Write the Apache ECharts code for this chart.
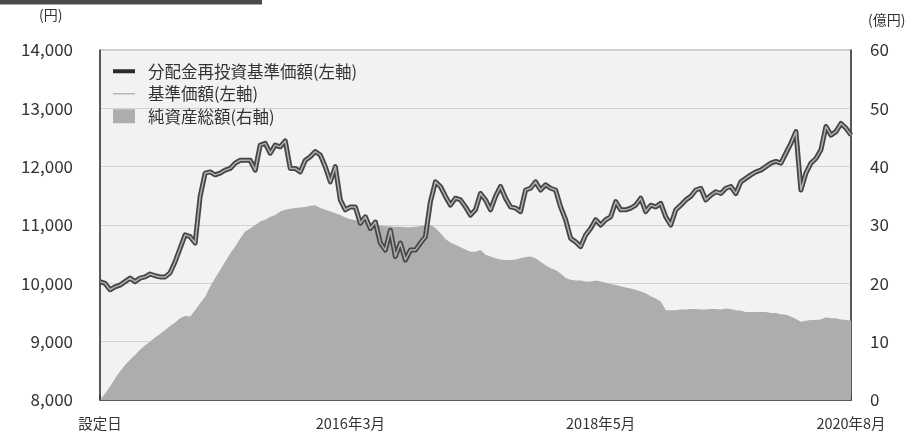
<!DOCTYPE html>
<html><head><meta charset="utf-8">
<script src="https://cdn.jsdelivr.net/npm/echarts@6/dist/echarts.min.js"></script>
<style>html,body{margin:0;padding:0;background:#fff}#c{width:907px;height:432px}</style>
</head><body><div id="c"></div>
<script>
// x positions: index 0..150 along the period 設定日 → 2020年8月
const tickLabels = ['設定日', '2016年3月', '2018年5月', '2020年8月'];
const tickIndex = [0, 50, 100, 150];

// 分配金再投資基準価額 (円, left axis)
const reinvestPrice = [
10030,10000,9890,9940,9970,10030,10090,10030,10090,10110,
10160,10130,10110,10110,10180,10370,10600,10830,10800,10690,
11490,11890,11910,11860,11890,11940,11970,12060,12110,12110,
12110,11940,12370,12400,12230,12370,12340,12440,11970,11970,
11910,12110,12170,12260,12200,12000,11740,12000,11430,11260,
11310,11310,11030,11140,10940,11050,10690,10570,10910,10460,
10690,10400,10570,10570,10690,10800,11400,11740,11660,11490,
11340,11460,11430,11310,11170,11260,11540,11430,11260,11490,
11660,11460,11310,11290,11230,11600,11630,11740,11600,11690,
11630,11600,11310,11090,10770,10710,10630,10830,10940,11090,
11000,11090,11140,11400,11260,11260,11290,11340,11460,11230,
11340,11310,11370,11140,11000,11260,11340,11430,11490,11600,
11630,11430,11510,11570,11540,11630,11660,11540,11740,11800,
11860,11910,11940,12000,12060,12090,12060,12230,12400,12600,
11600,11890,12060,12140,12290,12690,12540,12600,12740,12660,
12540
];
// 基準価額 (円, left axis) – coincides with the line above in the picture
const basePrice = [
10030,10000,9890,9940,9970,10030,10090,10030,10090,10110,
10160,10130,10110,10110,10180,10370,10600,10830,10800,10690,
11490,11890,11910,11860,11890,11940,11970,12060,12110,12110,
12110,11940,12370,12400,12230,12370,12340,12440,11970,11970,
11910,12110,12170,12260,12200,12000,11740,12000,11430,11260,
11310,11310,11030,11140,10940,11050,10690,10570,10910,10460,
10690,10400,10570,10570,10690,10800,11400,11740,11660,11490,
11340,11460,11430,11310,11170,11260,11540,11430,11260,11490,
11660,11460,11310,11290,11230,11600,11630,11740,11600,11690,
11630,11600,11310,11090,10770,10710,10630,10830,10940,11090,
11000,11090,11140,11400,11260,11260,11290,11340,11460,11230,
11340,11310,11370,11140,11000,11260,11340,11430,11490,11600,
11630,11430,11510,11570,11540,11630,11660,11540,11740,11800,
11860,11910,11940,12000,12060,12090,12060,12230,12400,12600,
11600,11890,12060,12140,12290,12690,12540,12600,12740,12660,
12540
];
// 純資産総額 (億円, right axis)
const netAssets = [
0,1.1,2.3,3.7,4.9,6.0,6.9,7.7,8.6,9.4,
10.0,10.7,11.3,12.0,12.7,13.3,14.0,14.4,14.3,15.4,
16.6,17.7,19.4,20.9,22.3,23.7,25.1,26.3,27.7,28.9,
29.4,30.0,30.6,30.9,31.4,31.7,32.3,32.6,32.8,32.9,
33.0,33.1,33.3,33.4,32.9,32.6,32.3,32.0,31.7,31.3,
31.0,30.8,30.6,30.4,30.2,30.0,29.9,29.8,29.8,29.7,
29.7,29.6,29.6,29.7,29.8,30.0,30.0,29.5,28.6,27.6,
27.0,26.6,26.2,25.8,25.4,25.4,25.7,24.9,24.6,24.3,
24.1,24.0,24.0,24.1,24.3,24.5,24.6,24.3,23.7,23.1,
22.6,22.3,21.7,20.9,20.6,20.5,20.5,20.3,20.3,20.5,
20.3,20.1,19.9,19.7,19.5,19.3,19.1,18.9,18.6,18.3,
17.8,17.4,16.9,15.4,15.4,15.4,15.5,15.5,15.6,15.6,
15.5,15.5,15.6,15.6,15.5,15.7,15.6,15.4,15.3,15.1,
15.1,15.1,15.1,15.1,14.9,14.9,14.7,14.6,14.3,13.9,
13.4,13.6,13.7,13.7,13.8,14.2,14.0,14.0,13.8,13.7,
13.6
];
const seriesNames = ['分配金再投資基準価額(左軸)', '基準価額(左軸)', '純資産総額(右軸)'];

const FONT = '"Noto Sans CJK JP", "Noto Sans", sans-serif';
const pairs = arr => arr.map((v, i) => [i, v]);

const chart = echarts.init(document.getElementById('c'), null, {renderer: 'canvas'});
chart.setOption({
  animation: false,
  textStyle: {fontFamily: FONT},
  grid: {left: 100, right: 56, top: 50, bottom: 32, show: true,
         backgroundColor: '#f2f2f2', borderColor: '#9a9a9a', borderWidth: 1},
  legend: {
    orient: 'vertical', left: 108, top: 58, itemWidth: 22, itemHeight: 14, itemGap: 6,
    textStyle: {fontSize: 16.5, color: '#333', fontFamily: FONT, padding: [0, 0, 0, 8]},
    data: [
      {name: seriesNames[0], icon: 'path://M0,0L22,0L22,4L0,4Z', itemStyle: {color: '#2b2b2b'}},
      {name: seriesNames[1], icon: 'path://M0,0L22,0L22,1.5L0,1.5Z', itemStyle: {color: '#b8b8b8'}},
      {name: seriesNames[2], icon: 'rect', itemStyle: {color: '#adadad'}}
    ]
  },
  xAxis: {
    type: 'value', min: 0, max: 150, interval: 50,
    axisLine: {show: true, lineStyle: {color: '#333', width: 1.5}},
    axisTick: {show: true, inside: true, length: 5, lineStyle: {color: '#333', width: 1.5}},
    splitLine: {show: false},
    axisLabel: {
      fontSize: 14.5, color: '#333', margin: 16, fontFamily: FONT,
      formatter: v => { const k = tickIndex.indexOf(v); return k >= 0 ? tickLabels[k] : ''; }
    }
  },
  yAxis: [
    {type: 'value', min: 8000, max: 14000, interval: 1000,
     axisLine: {show: true, lineStyle: {color: '#333', width: 1.5}},
     axisTick: {show: false},
     splitLine: {show: true, lineStyle: {color: '#d2d2d2', width: 1.2}},
     axisLabel: {fontSize: 17, color: '#333', margin: 27, fontFamily: FONT,
                 formatter: v => v.toLocaleString('en-US')}},
    {type: 'value', min: 0, max: 60, interval: 10, position: 'right',
     axisLine: {show: true, lineStyle: {color: '#333', width: 1.5}},
     axisTick: {show: false},
     splitLine: {show: false},
     axisLabel: {fontSize: 17, color: '#333', margin: 19, fontFamily: FONT}}
  ],
  series: [
    {name: seriesNames[2], type: 'line', yAxisIndex: 1, data: pairs(netAssets),
     symbol: 'none', z: 1, color: '#adadad',
     lineStyle: {width: 0}, areaStyle: {color: '#adadad', opacity: 1}},
    {name: seriesNames[0], type: 'line', yAxisIndex: 0, data: pairs(reinvestPrice),
     symbol: 'none', z: 2, color: '#454545',
     lineStyle: {color: '#454545', width: 5, join: 'round'}},
    {name: seriesNames[1], type: 'line', yAxisIndex: 0, data: pairs(basePrice),
     symbol: 'none', z: 3, color: '#b0b0b0',
     lineStyle: {color: '#b0b0b0', width: 1.5, join: 'round'}}
  ],
  graphic: [
    {type: 'rect', left: 0, top: 0, shape: {width: 262, height: 4}, style: {fill: '#4a4a4a'}},
    {type: 'rect', left: 0, top: 4, shape: {width: 262, height: 1}, style: {fill: '#aaaaaa'}},
    {type: 'text', left: 39, top: 8, style: {text: '(円)', fontSize: 14, fill: '#333', fontFamily: FONT}},
    {type: 'text', left: 868, top: 13, style: {text: '(億円)', fontSize: 14, fill: '#333', fontFamily: FONT}}
  ]
});
</script></body></html>
